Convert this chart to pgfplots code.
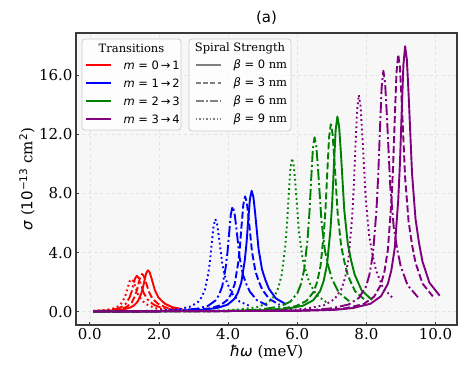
\documentclass[border=0pt]{standalone}
\usepackage{fontspec}
\setmainfont{DejaVu Serif}
\newfontfamily\dvs{DejaVu Sans}
\usepackage{pgfplots}
\pgfplotsset{compat=1.18}

\definecolor{cRed}{HTML}{FF0000}
\definecolor{cBlue}{HTML}{0000FF}
\definecolor{cGreen}{HTML}{008000}
\definecolor{cPurple}{HTML}{800080}
\definecolor{bgc}{HTML}{F7F7F7}
\definecolor{gridc}{HTML}{E2E2E2}
\definecolor{framec}{HTML}{3A3A3A}
\definecolor{legc}{HTML}{CCCCCC}

\newcommand{\mi}[1]{{\dvs\itshape #1}}
\newcommand{\mr}[1]{{\dvs #1}}

\tikzset{
  b0/.style={solid},
  b3/.style={dash pattern=on 7pt off 3pt},
  b6/.style={dash pattern=on 11pt off 3pt on 2pt off 3pt},
  b9/.style={dash pattern=on 1.8pt off 3pt},
}

\begin{document}
\begin{tikzpicture}
\begin{axis}[
  scale only axis, width=381pt, height=292pt,
  xmin=-0.40, xmax=10.62, ymin=-0.9, ymax=18.85,
  xtick={0,2,4,6,8,10}, ytick={0,4,8,12,16},
  xtick pos=left, ytick pos=left,
  axis background/.style={fill=bgc},
  grid=major, major grid style={dashed, draw=gridc, line width=0.5pt},
  axis line style={draw=framec, line width=1.3pt},
  tick align=inside, major tick length=3pt,
  tick style={draw=framec, line width=0.8pt},
  tick label style={font=\fontsize{15}{18}\selectfont,
    /pgf/number format/assume math mode=true,
    /pgf/number format/fixed, /pgf/number format/fixed zerofill,
    /pgf/number format/precision=1},
  title={\mr{(a)}},
  title style={at={(axis description cs:0.5,1.031)}, anchor=center, font=\fontsize{15}{18}\selectfont},
  xlabel={\mi{ħω} (meV)},
  xlabel style={at={(axis description cs:0.5,-0.0925)}, anchor=center, font=\fontsize{15}{18}\selectfont},
  ylabel={\mi{σ} (\mr{10}\textsuperscript{\mr{−13}} cm\textsuperscript{\mr{2}})},
  ylabel style={at={(axis description cs:-0.1286,0.5)}, anchor=center, font=\fontsize{15}{18}\selectfont},
  every axis plot/.append style={line width=1.9pt, line join=round},
]
% m = 0 -> 1
\addplot[cRed, b0] coordinates {(0.10,0.03) (0.68,0.08) (0.98,0.16) (1.18,0.29) (1.28,0.43) (1.38,0.67) (1.48,1.18) (1.53,1.57) (1.58,2.10) (1.63,2.60) (1.68,2.80) (1.73,2.66) (1.78,2.30) (1.83,1.88) (1.88,1.46) (1.98,0.98) (2.08,0.73) (2.18,0.53) (2.38,0.31) (2.68,0.17)};
\addplot[cRed, b3] coordinates {(0.10,0.04) (0.51,0.08) (0.81,0.15) (1.01,0.27) (1.11,0.40) (1.21,0.61) (1.31,1.07) (1.36,1.43) (1.41,1.91) (1.46,2.37) (1.51,2.55) (1.56,2.42) (1.61,2.09) (1.66,1.71) (1.71,1.33) (1.81,0.89) (1.91,0.66) (2.01,0.48) (2.21,0.28) (2.51,0.15)};
\addplot[cRed, b6] coordinates {(0.10,0.05) (0.36,0.07) (0.66,0.14) (0.86,0.25) (0.96,0.38) (1.06,0.58) (1.16,1.02) (1.21,1.36) (1.26,1.82) (1.31,2.25) (1.36,2.42) (1.41,2.30) (1.46,1.98) (1.51,1.62) (1.56,1.26) (1.66,0.85) (1.76,0.63) (1.86,0.46) (2.06,0.27) (2.36,0.15)};
\addplot[cRed, b9] coordinates {(0.10,0.05) (0.20,0.07) (0.50,0.13) (0.70,0.23) (0.80,0.34) (0.90,0.53) (1.00,0.92) (1.05,1.23) (1.10,1.65) (1.15,2.05) (1.20,2.20) (1.25,2.09) (1.30,1.80) (1.35,1.47) (1.40,1.14) (1.50,0.77) (1.60,0.57) (1.70,0.42) (1.90,0.24) (2.20,0.13)};
% m = 1 -> 2
\addplot[cBlue, b0] coordinates {(0.10,0.01) (1.68,0.03) (2.68,0.06) (3.18,0.11) (3.68,0.25) (3.98,0.47) (4.18,0.86) (4.28,1.27) (4.38,1.96) (4.48,3.44) (4.53,4.58) (4.58,6.14) (4.63,7.61) (4.68,8.18) (4.73,7.77) (4.78,6.71) (4.83,5.48) (4.88,4.25) (4.98,2.86) (5.08,2.13) (5.18,1.55) (5.38,0.90) (5.68,0.49)};
\addplot[cBlue, b3] coordinates {(0.10,0.01) (1.49,0.03) (2.49,0.06) (2.99,0.11) (3.49,0.23) (3.79,0.45) (3.99,0.82) (4.09,1.21) (4.19,1.87) (4.29,3.28) (4.34,4.37) (4.39,5.85) (4.44,7.25) (4.49,7.80) (4.54,7.41) (4.59,6.40) (4.64,5.23) (4.69,4.06) (4.79,2.73) (4.89,2.03) (4.99,1.48) (5.19,0.86) (5.49,0.47)};
\addplot[cBlue, b6] coordinates {(0.10,0.01) (1.13,0.02) (2.13,0.05) (2.63,0.10) (3.13,0.21) (3.43,0.41) (3.63,0.75) (3.73,1.10) (3.83,1.71) (3.93,2.99) (3.98,3.98) (4.03,5.33) (4.08,6.61) (4.13,7.11) (4.18,6.75) (4.23,5.83) (4.28,4.76) (4.33,3.70) (4.43,2.49) (4.53,1.85) (4.63,1.35) (4.83,0.78) (5.13,0.43)};
\addplot[cBlue, b9] coordinates {(0.10,0.02) (0.63,0.02) (1.63,0.05) (2.13,0.09) (2.63,0.19) (2.93,0.36) (3.13,0.66) (3.23,0.97) (3.33,1.50) (3.43,2.63) (3.48,3.51) (3.53,4.70) (3.58,5.82) (3.63,6.26) (3.68,5.95) (3.73,5.13) (3.78,4.19) (3.83,3.26) (3.93,2.19) (4.03,1.63) (4.13,1.19) (4.33,0.69) (4.63,0.38)};
% m = 2 -> 3
\addplot[cGreen, b0] coordinates {(0.10,0.01) (4.16,0.05) (5.16,0.10) (5.66,0.18) (6.16,0.40) (6.46,0.77) (6.66,1.39) (6.76,2.05) (6.86,3.17) (6.96,5.54) (7.01,7.39) (7.06,9.90) (7.11,12.28) (7.16,13.20) (7.21,12.54) (7.26,10.82) (7.31,8.84) (7.36,6.86) (7.46,4.62) (7.56,3.43) (7.66,2.51) (7.86,1.45) (8.16,0.79)};
\addplot[cGreen, b3] coordinates {(0.10,0.01) (3.97,0.04) (4.97,0.10) (5.47,0.18) (5.97,0.38) (6.27,0.74) (6.47,1.33) (6.57,1.97) (6.67,3.04) (6.77,5.33) (6.82,7.10) (6.87,9.51) (6.92,11.79) (6.97,12.68) (7.02,12.05) (7.07,10.40) (7.12,8.50) (7.17,6.59) (7.27,4.44) (7.37,3.30) (7.47,2.41) (7.67,1.39) (7.97,0.76)};
\addplot[cGreen, b6] coordinates {(0.10,0.01) (3.50,0.04) (4.50,0.09) (5.00,0.17) (5.50,0.35) (5.80,0.68) (6.00,1.24) (6.10,1.83) (6.20,2.83) (6.30,4.96) (6.35,6.61) (6.40,8.85) (6.45,10.97) (6.50,11.80) (6.55,11.21) (6.60,9.68) (6.65,7.91) (6.70,6.14) (6.80,4.13) (6.90,3.07) (7.00,2.24) (7.20,1.30) (7.50,0.71)};
\addplot[cGreen, b9] coordinates {(0.10,0.01) (2.85,0.04) (3.85,0.08) (4.35,0.15) (4.85,0.31) (5.15,0.60) (5.35,1.09) (5.45,1.61) (5.55,2.49) (5.65,4.36) (5.70,5.81) (5.75,7.79) (5.80,9.65) (5.85,10.38) (5.90,9.86) (5.95,8.51) (6.00,6.95) (6.05,5.40) (6.15,3.63) (6.25,2.70) (6.35,1.97) (6.55,1.14) (6.85,0.62)};
% m = 3 -> 4
\addplot[cPurple, b0] coordinates {(0.10,0.01) (6.12,0.06) (7.12,0.13) (7.62,0.25) (8.12,0.54) (8.42,1.04) (8.62,1.88) (8.72,2.78) (8.82,4.31) (8.92,7.54) (8.97,10.05) (9.02,13.46) (9.07,16.69) (9.12,17.95) (9.17,17.05) (9.22,14.72) (9.27,12.03) (9.32,9.33) (9.42,6.28) (9.52,4.67) (9.62,3.41) (9.82,1.97) (10.12,1.08)};
\addplot[cPurple, b3] coordinates {(0.10,0.01) (5.92,0.06) (6.92,0.13) (7.42,0.24) (7.92,0.52) (8.22,1.01) (8.42,1.83) (8.52,2.70) (8.62,4.18) (8.72,7.31) (8.77,9.74) (8.82,13.05) (8.87,16.18) (8.92,17.40) (8.97,16.53) (9.02,14.27) (9.07,11.66) (9.12,9.05) (9.22,6.09) (9.32,4.52) (9.42,3.31) (9.62,1.91) (9.92,1.04)};
\addplot[cPurple, b6] coordinates {(0.10,0.01) (5.49,0.06) (6.49,0.12) (6.99,0.23) (7.49,0.49) (7.79,0.95) (7.99,1.71) (8.09,2.53) (8.19,3.91) (8.29,6.85) (8.34,9.13) (8.39,12.23) (8.44,15.16) (8.49,16.30) (8.54,15.49) (8.59,13.37) (8.64,10.92) (8.69,8.48) (8.79,5.71) (8.89,4.24) (8.99,3.10) (9.19,1.79) (9.49,0.98)};
\addplot[cPurple, b9] coordinates {(0.10,0.01) (4.78,0.05) (5.78,0.11) (6.28,0.21) (6.78,0.44) (7.08,0.85) (7.28,1.54) (7.38,2.27) (7.48,3.52) (7.58,6.16) (7.63,8.21) (7.68,11.00) (7.73,13.63) (7.78,14.66) (7.83,13.93) (7.88,12.02) (7.93,9.82) (7.98,7.62) (8.08,5.13) (8.18,3.81) (8.28,2.79) (8.48,1.61) (8.78,0.88)};
\end{axis}

% legends, in pt from the axis's lower left corner
\begin{scope}[x=1pt, y=1pt, font=\fontsize{11.5}{13}\selectfont]
  \draw[draw=legc, fill=white, fill opacity=0.8, rounded corners=3pt, line width=0.8pt] (6,195) rectangle (105,286);
  \node at (55.5,277) {Transitions};
  \draw[cRed, line width=1.5pt] (10,260) -- (35,260);
  \node[anchor=west] at (44,260) {\mi{m} \mr{= 0\,→\,1}};
  \draw[cBlue, line width=1.5pt] (10,242) -- (35,242);
  \node[anchor=west] at (44,242) {\mi{m} \mr{= 1\,→\,2}};
  \draw[cGreen, line width=1.5pt] (10,224) -- (35,224);
  \node[anchor=west] at (44,224) {\mi{m} \mr{= 2\,→\,3}};
  \draw[cPurple, line width=1.5pt] (10,206) -- (35,206);
  \node[anchor=west] at (44,206) {\mi{m} \mr{= 3\,→\,4}};

  \draw[draw=legc, fill=white, fill opacity=0.8, rounded corners=3pt, line width=0.8pt] (113,194) rectangle (215,286);
  \node at (164,277) {Spiral Strength};
  \draw[gray, line width=1.3pt, b0] (120,260) -- (145,260);
  \node[anchor=west] at (154,260) {\mi{β} \mr{= 0} nm};
  \draw[gray, line width=1.3pt, dash pattern=on 5pt off 2.2pt] (120,242) -- (145,242);
  \node[anchor=west] at (154,242) {\mi{β} \mr{= 3} nm};
  \draw[gray, line width=1.3pt, dash pattern=on 8pt off 2.2pt on 1.5pt off 2.2pt] (120,224) -- (145,224);
  \node[anchor=west] at (154,224) {\mi{β} \mr{= 6} nm};
  \draw[gray, line width=1.3pt, dash pattern=on 1.3pt off 2.2pt] (120,206) -- (145,206);
  \node[anchor=west] at (154,206) {\mi{β} \mr{= 9} nm};
\end{scope}
\path (-76pt,-55pt) rectangle (399pt,325pt);
\end{tikzpicture}
\end{document}
